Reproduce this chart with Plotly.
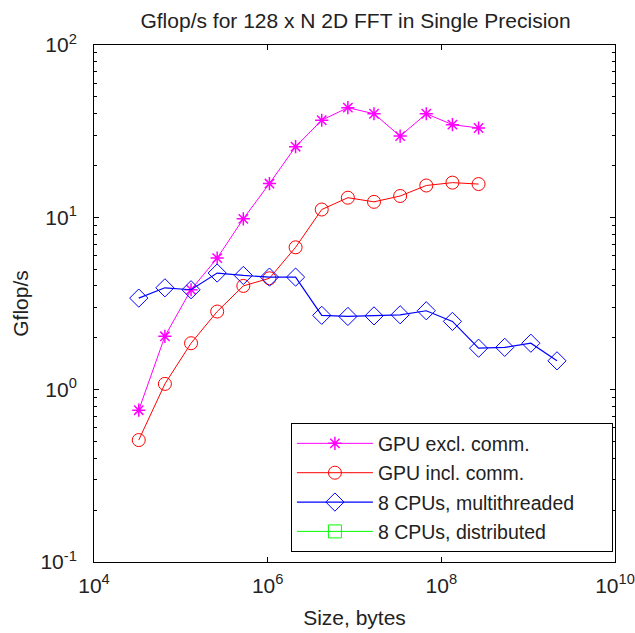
import plotly.graph_objects as go

# Sizes in bytes (powers of two)
size_gpu = [2**k for k in range(15, 29)]
size_cpu = [2**k for k in range(15, 32)]

gpu_excl = [0.76, 2.04, 3.8, 5.8, 9.8, 15.7, 25.7, 36.6, 43.3, 39.9, 29.6, 39.9, 34.5, 33.0]
gpu_incl = [0.51, 1.08, 1.86, 2.84, 4.0, 4.43, 6.7, 11.1, 13.0, 12.3, 13.3, 15.3, 15.9, 15.6]
cpu_multi = [3.4, 3.9, 3.8, 4.75, 4.6, 4.5, 4.5, 2.7, 2.66, 2.68, 2.72, 2.87, 2.49, 1.74, 1.76, 1.86, 1.47]
cpu_dist_x = [None]
cpu_dist_y = [None]

names = ["GPU excl. comm.", "GPU incl. comm.", "8 CPUs, multithreaded", "8 CPUs, distributed"]

x_tickvals = [1e4, 1e6, 1e8, 1e10]
x_ticktext = ["10<sup>4</sup>", "10<sup>6</sup>", "10<sup>8</sup>", "10<sup>10</sup>"]
y_tickvals = [0.1, 1, 10, 100]
y_ticktext = ["10<sup>-1</sup>", "10<sup>0</sup>", "10<sup>1</sup>", "10<sup>2</sup>"]

FONT = "Liberation Sans, Arial, Helvetica"
TXT = "#222"
PAD = "\u00a0" * 6  # right padding inside the legend box

fig = go.Figure()
fig.add_trace(go.Scatter(x=size_gpu, y=gpu_excl, name=names[0] + PAD, mode="lines+markers",
                         legendgroup="a",
                         line=dict(color="#FF00FF", width=1),
                         marker=dict(symbol="asterisk-open", size=11, color="#FF00FF",
                                     line=dict(width=1.5, color="#FF00FF"))))
fig.add_trace(go.Scatter(x=size_gpu, y=gpu_incl, name=names[1] + PAD, mode="lines+markers",
                         legendgroup="b",
                         line=dict(color="#FF0000", width=1),
                         marker=dict(symbol="circle-open", size=13, color="#FF0000",
                                     line=dict(width=1, color="#FF0000"))))
fig.add_trace(go.Scatter(x=size_cpu, y=cpu_multi, name=names[2] + PAD, mode="lines+markers",
                         legendgroup="c",
                         line=dict(color="#0000FF", width=1.2),
                         marker=dict(symbol="diamond-open", size=14, color="#0000FF",
                                     line=dict(width=1, color="#0000FF"))))
fig.add_trace(go.Scatter(x=cpu_dist_x, y=cpu_dist_y, name=names[3] + PAD, mode="lines+markers",
                         legendgroup="d",
                         line=dict(color="#00FF00", width=1),
                         marker=dict(symbol="square-open", size=13, color="#00FF00",
                                     line=dict(width=1, color="#00FF00"))))

axis_common = dict(
    type="log", showgrid=False, zeroline=False, showline=True, linecolor="black",
    linewidth=1, mirror="ticks", ticks="inside", ticklen=5, tickcolor="black",
    automargin=False,
    tickfont=dict(family=FONT, size=21, color=TXT),
)

fig.update_xaxes(**axis_common, range=[4, 10], tickmode="array",
                 tickvals=x_tickvals, ticktext=x_ticktext, ticklabelstandoff=5,
                 title=dict(text="Size, bytes", font=dict(family=FONT, size=21, color=TXT),
                            standoff=14))
fig.update_yaxes(**axis_common, range=[-1, 2], tickmode="array",
                 tickvals=y_tickvals, ticktext=y_ticktext, ticklabelstandoff=12,
                 minor=dict(ticks="inside", ticklen=3, tickcolor="black", dtick="D1"),
                 title=dict(text="Gflop/s", font=dict(family=FONT, size=21, color=TXT),
                            standoff=6))

fig.update_layout(
    width=635, height=633,
    margin=dict(l=94, r=20, t=45, b=71, autoexpand=False),
    paper_bgcolor="white", plot_bgcolor="white",
    title=dict(text="Gflop/s for 128 x N 2D FFT in Single Precision", x=0.56, xanchor="center",
               y=0.968, yanchor="middle",
               font=dict(family=FONT, size=21, color=TXT)),
    legend=dict(x=0.996, y=0.019, xanchor="right", yanchor="bottom",
                bordercolor="black", borderwidth=1, bgcolor="white",
                font=dict(family=FONT, size=19.5, color=TXT),
                itemwidth=76, tracegroupgap=1, traceorder="grouped"),
    showlegend=True,
)

fig.write_html("out.html")
